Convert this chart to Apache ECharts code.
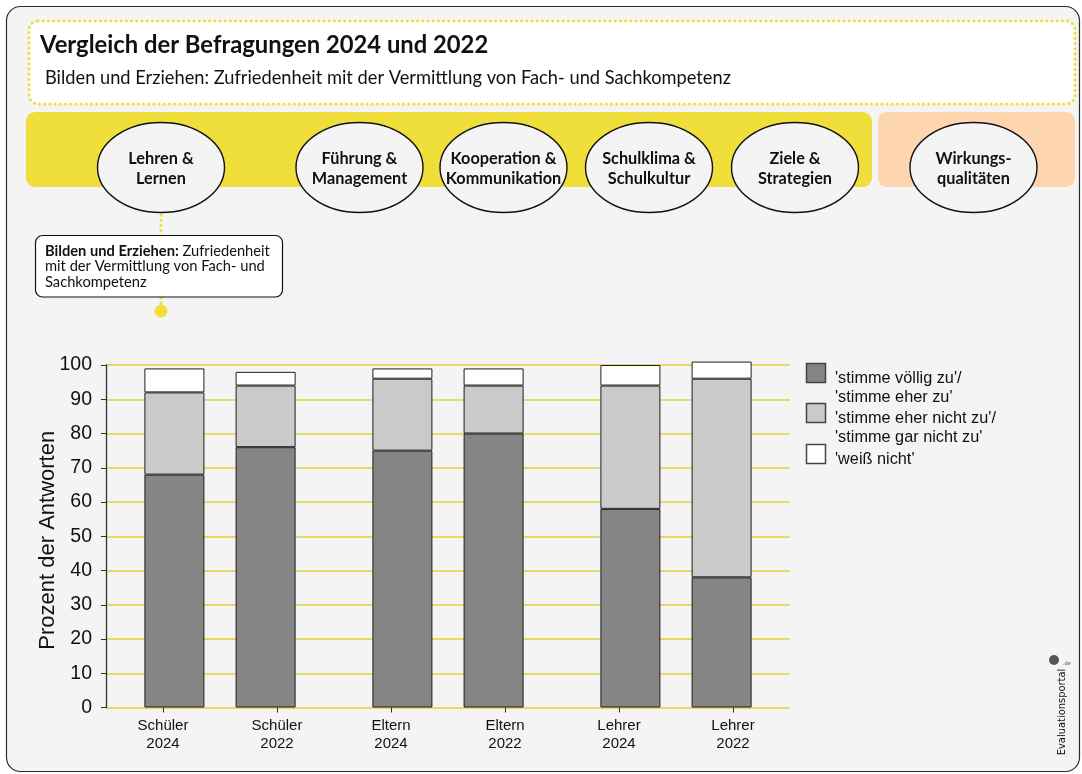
<!DOCTYPE html>
<html>
<head>
<meta charset="utf-8">
<script src="https://cdn.jsdelivr.net/npm/echarts@6/dist/echarts.min.js"></script>
<style>
  html, body { margin: 0; padding: 0; background: #ffffff; }
  #chart { width: 1082px; height: 774px; }
</style>
</head>
<body>
<div id="chart"></div>
<script>
// categories (tick labels) and where each bar sits on the hidden slot axis
const groups = ["Schüler\n2024", "Schüler\n2022", "Eltern\n2024", "Eltern\n2022", "Lehrer\n2024", "Lehrer\n2022"];
const slots = [1, 3, 6, 8, 11, 13];
const slotCount = 15;

// answer shares in percent
const zuValues = [68, 76, 75, 80, 58, 38];          // 'stimme völlig zu' / 'stimme eher zu'
const nichtZuValues = [24, 18, 21, 14, 36, 58];     // 'stimme eher nicht zu' / 'stimme gar nicht zu'
const weissNichtValues = [7, 4, 3, 5, 6, 5];        // 'weiß nicht'

const yTicks = [0, 100, 10]; // min, max, interval

const legendLabels = [
  "'stimme völlig zu'/\n'stimme eher zu'",
  "'stimme eher nicht zu'/\n'stimme gar nicht zu'",
  "'weiß nicht'"
];
const areas = [
  "Lehren &\nLernen", "Führung &\nManagement", "Kooperation &\nKommunikation",
  "Schulklima &\nSchulkultur", "Ziele &\nStrategien", "Wirkungs-\nqualitäten"
];

const COLORS = ["#858585", "#cacaca", "#ffffff"];
const HEAD_FONT = "Lato";
const CHART_FONT = "Liberation Sans";
const YELLOW = "#f0df3b";

(function(){
  const chart = echarts.init(document.getElementById("chart"), null, { renderer: "canvas" });

  // spread values into the slot axis (gaps stay empty)
  function toSlots(vals){
    const out = Array.from({length: slotCount}, ()=>"-");
    slots.forEach((s, i)=>{ out[s] = vals[i]; });
    return out;
  }

  const seriesDefs = [zuValues, nichtZuValues, weissNichtValues];
  const series = seriesDefs.map((vals, i)=>({
    type: "bar",
    name: legendLabels[i],
    stack: "total",
    xAxisIndex: 1,
    barWidth: 60,
    clip: false,
    itemStyle: { color: COLORS[i], borderColor: "#1e1e1e", borderWidth: 1 },
    emphasis: { disabled: true },
    data: toSlots(vals)
  }));

  // header, area ellipses, callout, legend, logo
  const ellipseX = [161, 359.5, 503.5, 649, 795, 973.5];
  const g = [];
  g.push({ type: "rect", z: -10, shape: { x: 6.5, y: 6.5, width: 1073, height: 765, r: 14 },
    style: { fill: "#f4f4f4", stroke: "#2b2b2b", lineWidth: 1.2 } });
  g.push({ type: "rect", z: -9, shape: { x: 29, y: 21, width: 1046, height: 83, r: 9 },
    style: { fill: "#ffffff", stroke: YELLOW, lineWidth: 3.2, lineDash: [0, 5.2], lineCap: "round" } });
  g.push({ type: "text", z: 5, x: 40, y: 45,
    style: { text: "Vergleich der Befragungen 2024 und 2022", fontFamily: HEAD_FONT, fontWeight: "bold",
      fontSize: 23.8, fill: "#111", verticalAlign: "middle" } });
  g.push({ type: "text", z: 5, x: 45, y: 78,
    style: { text: "Bilden und Erziehen: Zufriedenheit mit der Vermittlung von Fach- und Sachkompetenz",
      fontFamily: HEAD_FONT, fontSize: 18.25, fill: "#111", verticalAlign: "middle" } });
  g.push({ type: "rect", z: -9, shape: { x: 26, y: 112, width: 846, height: 75, r: 9 }, style: { fill: YELLOW } });
  g.push({ type: "rect", z: -9, shape: { x: 878, y: 112, width: 197, height: 75, r: 9 }, style: { fill: "#fdd5ae" } });
  areas.forEach((txt, i)=>{
    g.push({ type: "ellipse", z: -5, shape: { cx: ellipseX[i], cy: 167.5, rx: 63.5, ry: 45 },
      style: { fill: "#f4f4f4", stroke: "#111", lineWidth: 1.4 } });
    g.push({ type: "text", z: 5, x: ellipseX[i], y: 168.5,
      style: { text: txt, fontFamily: HEAD_FONT, fontWeight: "bold", fontSize: 16.3, lineHeight: 20,
        fill: "#111", align: "center", verticalAlign: "middle" } });
  });
  // callout with dotted connector
  g.push({ type: "line", z: -6, shape: { x1: 161, y1: 215, x2: 161, y2: 236 },
    style: { stroke: YELLOW, lineWidth: 3.2, lineDash: [0, 5.2], lineCap: "round" } });
  g.push({ type: "line", z: -6, shape: { x1: 161, y1: 298, x2: 161, y2: 308 },
    style: { stroke: YELLOW, lineWidth: 3.2, lineDash: [0, 5.2], lineCap: "round" } });
  g.push({ type: "circle", z: -5, shape: { cx: 161, cy: 311, r: 6.5 }, style: { fill: YELLOW } });
  g.push({ type: "rect", z: -5, shape: { x: 35.5, y: 235.5, width: 247, height: 61.5, r: 7 },
    style: { fill: "#ffffff", stroke: "#111", lineWidth: 1.2 } });
  g.push({ type: "text", z: 5, x: 45, y: 266.5,
    style: { text: "{b|Bilden und Erziehen:} Zufriedenheit\nmit der Vermittlung von Fach- und\nSachkompetenz",
      fontFamily: HEAD_FONT, fontSize: 14.7, lineHeight: 15.5, fill: "#111", verticalAlign: "middle",
      rich: { b: { fontFamily: HEAD_FONT, fontWeight: "bold", fontSize: 14.7, lineHeight: 15.5, fill: "#111" } } } });
  // legend
  const legendY = [363, 403, 444];
  legendLabels.forEach((txt, i)=>{
    g.push({ type: "rect", z: 5, shape: { x: 806.5, y: legendY[i] + 0.5, width: 19, height: 19 },
      style: { fill: COLORS[i], stroke: "#444", lineWidth: 1.5 } });
    g.push({ type: "text", z: 5, x: 835, y: legendY[i] + 5.5,
      style: { text: txt, fontFamily: CHART_FONT, fontSize: 16.3, lineHeight: 19.5, fill: "#111", verticalAlign: "top" } });
  });
  // logo
  g.push({ type: "circle", z: 5, shape: { cx: 1054, cy: 660, r: 5 }, style: { fill: "#555" } });
  g.push({ type: "text", z: 5, x: 1063, y: 661, style: { text: ".de", fontFamily: "DejaVu Sans", fontSize: 5, fill: "#333" } });
  g.push({ type: "text", z: 5, x: 1062, y: 712, rotation: Math.PI / 2,
    style: { text: "Evaluationsportal", fontFamily: "DejaVu Sans Condensed", fontSize: 11, fill: "#111",
      align: "center", verticalAlign: "middle" } });

  chart.setOption({
    animation: false,
    backgroundColor: "transparent",
    textStyle: { fontFamily: CHART_FONT },
    grid: { left: 106, right: 292, top: 365, bottom: 66.5, containLabel: false },
    xAxis: [
      {
        type: "category", data: groups, boundaryGap: true,
        axisLine: { show: false },
        axisTick: { show: true, alignWithLabel: true, length: 5, lineStyle: { color: "#333", width: 1 } },
        axisLabel: { fontSize: 15, lineHeight: 18, color: "#111", margin: 9 },
        splitLine: { show: false }
      },
      {
        type: "category", data: Array.from({length: slotCount}, (_, i)=>String(i)),
        show: false, boundaryGap: true
      }
    ],
    yAxis: {
      type: "value", min: yTicks[0], max: yTicks[1], interval: yTicks[2],
      name: "Prozent der Antworten", nameLocation: "middle", nameGap: 47, nameRotate: 90,
      nameMoveOverlap: false,
      nameTextStyle: { fontSize: 22, color: "#111", padding: [0, 8, 0, 0] },
      axisLine: { show: true, lineStyle: { color: "#333", width: 1.3 } },
      axisTick: { show: true, length: 5, lineStyle: { color: "#333" } },
      axisLabel: { fontSize: 19.5, color: "#111", margin: 14 },
      splitLine: { show: true, lineStyle: { color: "#e3d238", width: 1.6 } }
    },
    graphic: { elements: g },
    series
  });
})();
</script>
</body>
</html>
